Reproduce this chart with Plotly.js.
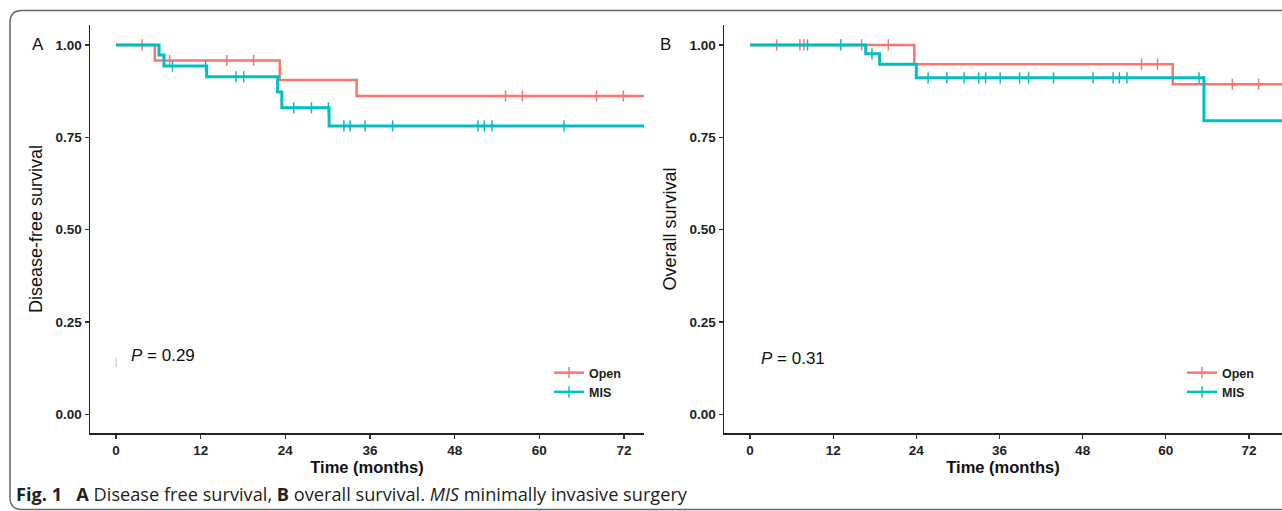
<!DOCTYPE html>
<html>
<head>
<meta charset="utf-8">
<script src="https://cdn.plot.ly/plotly-3.0.1.min.js"></script>
<style>html,body{margin:0;padding:0;background:#fff;}#chart{width:1282px;height:511px;}</style>
</head>
<body>
<div id="chart"></div>
<script>
// ---------- data ----------
const groupNames = ["Open", "MIS"];
const followUpEnd = 77;
const xTickVals = [0, 12, 24, 36, 48, 60, 72];
const yTickVals = [0, 0.25, 0.5, 0.75, 1];
const yTickText = ["0.00", "0.25", "0.50", "0.75", "1.00"];

// Panel A: disease-free survival
const dfsOpenTimes = [0, 5.5, 23.2, 34.1];
const dfsOpenSurv  = [1, 0.958, 0.905, 0.862];
const dfsOpenCensor = [3.7, 7.6, 15.7, 19.5, 55.2, 57.6, 68.1, 71.9];
const dfsMisTimes = [0, 6.1, 6.8, 12.85, 22.9, 23.5, 30.2];
const dfsMisSurv  = [1, 0.973, 0.943, 0.914, 0.873, 0.830, 0.781];
const dfsMisCensor = [8.0, 12.7, 17.0, 18.1, 25.2, 27.7, 30.1, 32.3, 33.2, 35.3, 39.2, 51.3, 52.2, 53.3, 63.5];
const dfsPText = "<i>P</i> = 0.29";

// Panel B: overall survival
const osOpenTimes = [0, 23.7, 61.0];
const osOpenSurv  = [1, 0.948, 0.894];
const osOpenCensor = [3.85, 7.2, 7.8, 16.1, 19.96, 56.5, 58.8, 69.6, 73.4];
const osMisTimes = [0, 16.7, 18.7, 24.0, 65.5];
const osMisSurv  = [1, 0.976, 0.948, 0.911, 0.795];
const osMisCensor = [8.3, 13.1, 17.6, 25.7, 28.4, 30.9, 33.0, 34.0, 36.1, 38.9, 40.2, 43.8, 49.5, 52.4, 53.3, 54.4, 64.8];
const osPText = "<i>P</i> = 0.31";

// ---------- styling ----------
const colors = {Open: "#F8766D", MIS: "#00BFC4"};
const W = 1282, H = 511;
const fx = p => p / W;          // pixel -> paper x
const fy = p => 1 - p / H;      // pixel -> paper y
const SANS = "Liberation Sans, Arial, sans-serif";

function survAt(times, surv, t) {
  let s = surv[0];
  for (let i = 0; i < times.length; i++) if (times[i] <= t) s = surv[i];
  return s;
}
function curve(times, surv, censor, name, xa, ya) {
  const col = colors[name];
  return [
    {x: times.concat([followUpEnd]), y: surv.concat([surv[surv.length - 1]]),
     type: "scatter", mode: "lines", line: {shape: "hv", color: col, width: name === "MIS" ? 3 : 2.5},
     xaxis: xa, yaxis: ya, showlegend: false, hoverinfo: "skip"},
    {x: censor, y: censor.map(t => survAt(times, surv, t)),
     type: "scatter", mode: "markers",
     marker: {symbol: "line-ns", size: 8, color: col, line: {color: col, width: 1.5}},
     xaxis: xa, yaxis: ya, showlegend: false, hoverinfo: "skip"}
  ];
}
function legendTrace(name, xa, ya, legend) {
  const col = colors[name];
  return {x: [null], y: [null], type: "scatter", mode: "lines+markers", name: name,
    line: {color: col, width: 2.5},
    marker: {symbol: "line-ns", size: 8, color: col, line: {color: col, width: 1.5}},
    xaxis: xa, yaxis: ya, legend: legend, showlegend: true};
}

const traces = [].concat(
  curve(dfsOpenTimes, dfsOpenSurv, dfsOpenCensor, "Open", "x", "y"),
  curve(dfsMisTimes, dfsMisSurv, dfsMisCensor, "MIS", "x", "y"),
  curve(osOpenTimes, osOpenSurv, osOpenCensor, "Open", "x2", "y2"),
  curve(osMisTimes, osMisSurv, osMisCensor, "MIS", "x2", "y2"),
  [legendTrace("Open", "x", "y", "legend"), legendTrace("MIS", "x", "y", "legend"),
   legendTrace("Open", "x2", "y2", "legend2"), legendTrace("MIS", "x2", "y2", "legend2")]
);

const tickFont = {family: SANS, size: 13.5, color: "#222", weight: "bold"};
function xAxis(domain, range) {
  return {domain: domain, range: range, tickvals: xTickVals, ticks: "outside", ticklen: 4,
    tickcolor: "#333", tickwidth: 1.3, showline: true, linecolor: "#222", linewidth: 1.5,
    showgrid: false, zeroline: false, tickfont: tickFont,
    title: {text: "Time (months)", font: {family: SANS, size: 16.5, color: "#111", weight: "bold"}, standoff: 1}};
}
function yAxis(domain, anchor, title) {
  return {domain: domain, anchor: anchor, range: [-0.05, 1.054], tickvals: yTickVals, ticktext: yTickText,
    ticks: "outside", ticklen: 4, tickcolor: "#333", tickwidth: 1.3, showline: true, linecolor: "#222",
    linewidth: 1.5, showgrid: false, zeroline: false, tickfont: tickFont,
    title: {text: title, font: {family: SANS, size: 18, color: "#111"}, standoff: 8}};
}
const yDom = [fy(433), fy(25)];
const legendStyle = {font: {family: SANS, size: 12.5, color: "#222", weight: "bold"},
  bgcolor: "rgba(0,0,0,0)", itemwidth: 30, tracegroupgap: 0, xanchor: "left", yanchor: "top"};

// frame with rounded left corners
const r = 12;
const L = fx(10), T = fy(10.5), B = fy(509.5), R = fx(1290);
const rx = fx(10 + r), ryT = fy(10.5 + r), ryB = fy(509.5 - r);
const framePath = `M ${R},${T} L ${rx},${T} Q ${L},${T} ${L},${ryT} L ${L},${ryB} Q ${L},${B} ${rx},${B} L ${R},${B}`;

function note(x, y, text, font, xanchor) {
  return {xref: "paper", yref: "paper", x: fx(x), y: fy(y), text: text, showarrow: false,
    xanchor: xanchor || "center", yanchor: "middle", font: font};
}

const layout = {
  width: W, height: H, margin: {l: 0, r: 0, t: 0, b: 0},
  paper_bgcolor: "#fff", plot_bgcolor: "#fff",
  xaxis: xAxis([fx(90), fx(644)], [(90 - 116) / 7.056, (644 - 116) / 7.056]),
  yaxis: yAxis(yDom, "x", "Disease-free survival"),
  xaxis2: Object.assign(xAxis([fx(724), 1], [(724 - 750) / 6.93, (1282 - 750) / 6.93]), {anchor: "y2"}),
  yaxis2: yAxis(yDom, "x2", "Overall survival"),
  legend: Object.assign({x: fx(549), y: fy(358)}, legendStyle),
  legend2: Object.assign({x: fx(1182), y: fy(358)}, legendStyle),
  shapes: [{type: "path", xref: "paper", yref: "paper", path: framePath, line: {color: "#666", width: 1.5}}],
  annotations: [
    note(38, 44, "A", {family: SANS, size: 17, color: "#111"}),
    note(665, 44, "B", {family: SANS, size: 17, color: "#111"}),
    note(129, 355, dfsPText, {family: SANS, size: 17, color: "#111"}, "left"),
    note(759, 358, osPText, {family: SANS, size: 17, color: "#111"}, "left"),
    note(116, 362, "|", {family: SANS, size: 9, color: "#c9a08a"}),
    note(14, 494, "<b>Fig. 1</b>\u00a0\u00a0\u00a0<b>A</b> Disease free survival, <b>B</b> overall survival. <i>MIS</i> minimally invasive surgery",
      {family: "Open Sans, Noto Sans, sans-serif", size: 18.2, color: "#222"}, "left")
  ]
};

Plotly.newPlot("chart", traces, layout, {staticPlot: true, displayModeBar: false});
</script>
</body>
</html>
